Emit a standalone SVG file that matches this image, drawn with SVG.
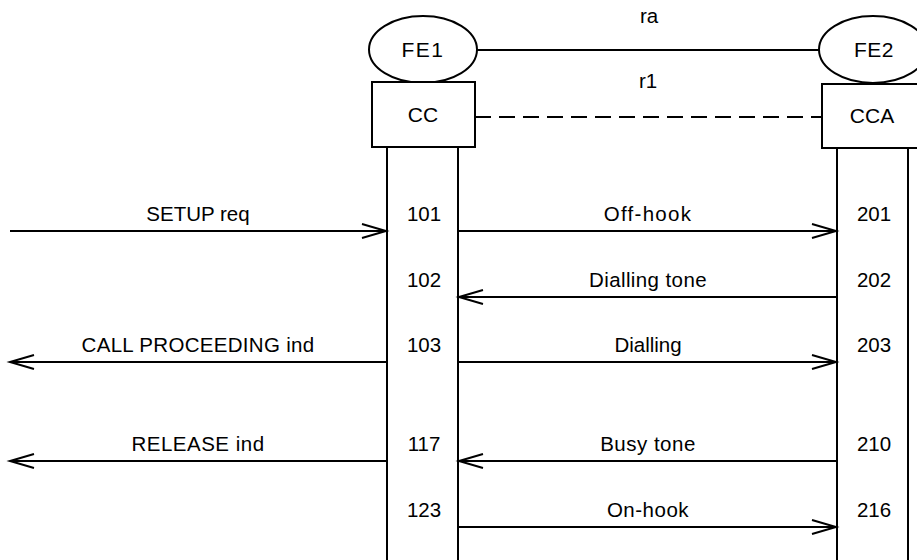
<svg xmlns="http://www.w3.org/2000/svg" width="917" height="560" viewBox="0 0 917 560">
<style>
text{font-family:"Liberation Sans",Arial,sans-serif;font-size:20.5px;fill:#000;text-anchor:middle}
.n{font-size:21px}
.s{fill:none;stroke:#000;stroke-width:2}
.w{fill:#fff;stroke:#000;stroke-width:2}
.m{fill:none;stroke:#000;stroke-width:2;marker-end:url(#ah)}
</style>
<defs>
<marker id="ah" markerUnits="userSpaceOnUse" markerWidth="30" markerHeight="20" viewBox="-26 -10 30 20" refX="0" refY="0" orient="auto" overflow="visible">
<path d="M-24,-7 L0,0 L-24,7" fill="none" stroke="#000" stroke-width="2"/>
</marker>
</defs>
<g id="connectors">
<line class="s" x1="477" y1="50" x2="819" y2="50"/>
<line class="s" x1="475" y1="117" x2="822" y2="117" stroke-dasharray="16 8"/>
<text x="649" y="23">ra</text>
<text x="648" y="88">r1</text>
<line class="m" x1="10" y1="231" x2="386" y2="231"/>
<text x="198" y="221">SETUP req</text>
<line class="m" x1="459" y1="231" x2="836" y2="231"/>
<text x="648" y="221" letter-spacing="1.3">Off-hook</text>
<line class="m" x1="836" y1="297" x2="459" y2="297"/>
<text x="648" y="287" letter-spacing="0.4">Dialling tone</text>
<line class="m" x1="386" y1="362" x2="10" y2="362"/>
<text x="198" y="352" letter-spacing="0.3">CALL PROCEEDING ind</text>
<line class="m" x1="459" y1="362" x2="836" y2="362"/>
<text x="648" y="352">Dialling</text>
<line class="m" x1="386" y1="461" x2="10" y2="461"/>
<text x="198" y="451" letter-spacing="0.5">RELEASE ind</text>
<line class="m" x1="836" y1="461" x2="459" y2="461"/>
<text x="648" y="451" letter-spacing="0.5">Busy tone</text>
<line class="m" x1="459" y1="527" x2="836" y2="527"/>
<text x="648" y="517" letter-spacing="0.5">On-hook</text>
</g>
<g id="FE1">
<ellipse class="w" cx="423" cy="49.5" rx="54" ry="33.5"/>
<text class="n" x="423" y="57" letter-spacing="1.5">FE1</text>
</g>
<g id="FE2">
<ellipse class="w" cx="873" cy="49.5" rx="54" ry="33.5"/>
<text class="n" x="874" y="57" letter-spacing="0.5">FE2</text>
</g>
<g id="CC">
<rect class="w" x="372" y="82" width="103" height="65"/>
<text class="n" x="423" y="122">CC</text>
<line class="s" x1="387" y1="147" x2="387" y2="560"/>
<line class="s" x1="458" y1="147" x2="458" y2="560"/>
<text x="424" y="221">101</text>
<text x="424" y="287">102</text>
<text x="424" y="352">103</text>
<text x="424" y="451">117</text>
<text x="424" y="517">123</text>
</g>
<g id="CCA">
<rect class="w" x="822" y="84" width="103" height="64"/>
<text class="n" x="872" y="123">CCA</text>
<line class="s" x1="837" y1="148" x2="837" y2="560"/>
<line class="s" x1="908" y1="148" x2="908" y2="560"/>
<text x="874" y="221">201</text>
<text x="874" y="287">202</text>
<text x="874" y="352">203</text>
<text x="874" y="451">210</text>
<text x="874" y="517">216</text>
</g>
</svg>
